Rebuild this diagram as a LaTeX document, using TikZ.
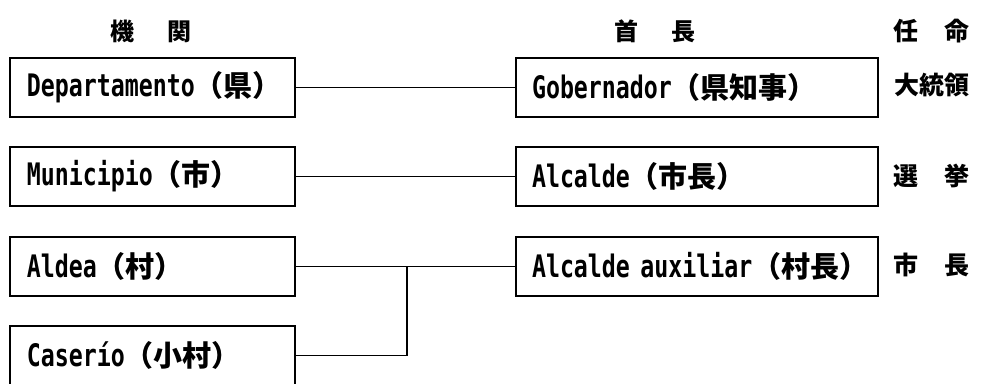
\documentclass[tikz,border=0pt]{standalone}
\usepackage{fontspec}
\newfontfamily\lat[FakeStretch=0.75]{DejaVu Sans Mono}
\newfontfamily\cjk{Noto Sans CJK JP}
\newfontfamily\cjkh[RawFeature={+halt}]{Noto Sans CJK JP}
% Japanese part of a box label, with half-width brackets
\newcommand\bt[1]{\hspace{4pt}{\cjkh\fontsize{29}{31}\selectfont #1}}
% two characters set apart
\newcommand\pair[3]{#1\hspace{#3}#2}
\begin{document}
\begin{tikzpicture}[x=1pt,y=-1pt,
  box/.style={draw, line width=1.8pt, minimum height=59pt, align=left,
    inner ysep=0pt, font=\lat\bfseries\fontsize{31}{33}\selectfont},
  lbox/.style={box, inner xsep=17pt, text width=251pt},
  rbox/.style={box, inner xsep=16pt, text width=330pt},
  head/.style={inner sep=0pt, font=\cjk\bfseries\fontsize{24}{26}\selectfont},
  side/.style={inner sep=0pt, font=\cjk\bfseries\fontsize{25}{27}\selectfont},
  link/.style={line width=1.3pt},
  trunk/.style={line width=2.6pt}]
\useasboundingbox (0,0) rectangle (982,383);

% column headings
\node[head] (h1) at (151,31) {\pair{機}{関}{33pt}};
\node[head] (h2) at (655,31) {\pair{首}{長}{33pt}};
\node[side] (h3) at (931,31) {\pair{任}{命}{26pt}};

% bodies
\node[lbox] (dep) at (152.5,87.5)  {Departamento \bt{（県）}};
\node[lbox] (mun) at (152.5,176.5) {Municipio \bt{（市）}};
\node[lbox] (ald) at (152.5,266.5) {Aldea \bt{（村）}};
\node[lbox] (cas) at (152.5,355.5) {Caserío \bt{（小村）}};

% heads of the bodies
\node[rbox] (gob) at (697,87.5)  {Gobernador \bt{（県知事）}};
\node[rbox] (alc) at (697,176.5) {Alcalde \bt{（市長）}};
\node[rbox] (aux) at (697,266.5) {Alcalde auxiliar \bt{（村長）}};

% appointed by
\node[side] (a1) at (932,85)  {大統領};
\node[side] (a2) at (931,176) {\pair{選}{挙}{26pt}};
\node[side] (a3) at (931,265) {\pair{市}{長}{26pt}};

% connectors
\draw[link] (dep) -- (gob);
\draw[link] (mun) -- (alc);
\draw[link] (ald) -- (aux);
\coordinate (j) at (407,266.5);
\draw[link] (cas.east) -- (cas.east -| j);
\draw[trunk] (cas.east -| j) -- (j);
\end{tikzpicture}
\end{document}
